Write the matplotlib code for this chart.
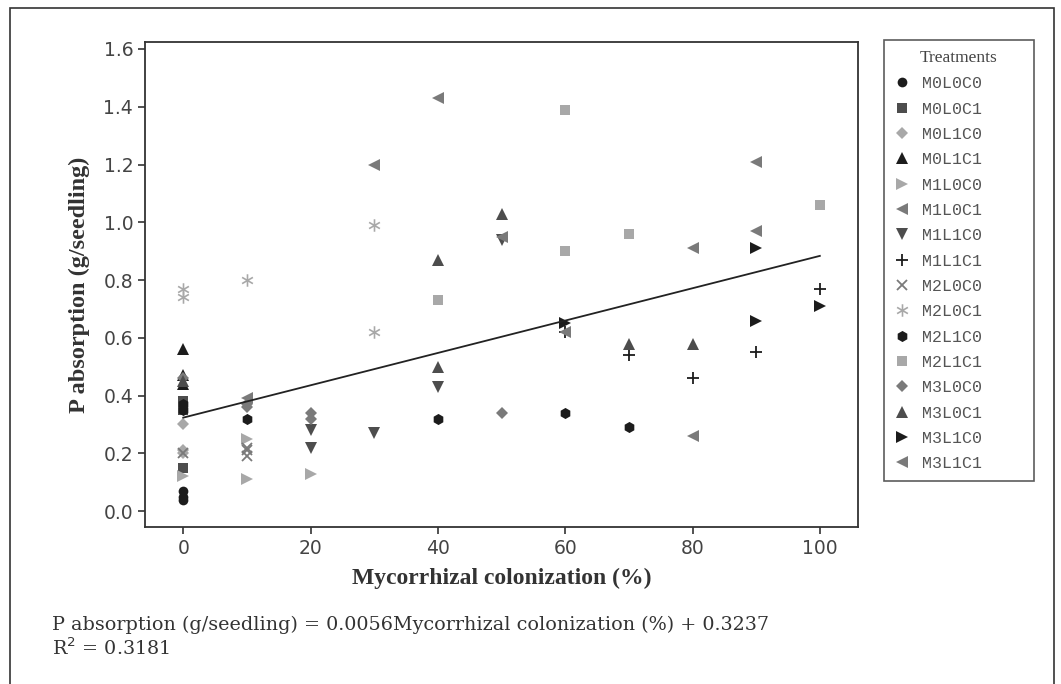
import matplotlib
matplotlib.use("Agg")
from matplotlib import pyplot as plt
from matplotlib.patches import Rectangle
import numpy as np

# colonization (%) and P absorption (g/seedling) for each treatment
names = ["M0L0C0", "M0L0C1", "M0L1C0", "M0L1C1", "M1L0C0", "M1L0C1", "M1L1C0", "M1L1C1",
         "M2L0C0", "M2L0C1", "M2L1C0", "M2L1C1", "M3L0C0", "M3L0C1", "M3L1C0", "M3L1C1"]

x_m0l0c0 = [0, 0, 0]
y_m0l0c0 = [0.05, 0.04, 0.07]
x_m0l0c1 = [0, 0, 0]
y_m0l0c1 = [0.15, 0.38, 0.35]
x_m0l1c0 = [0, 0, 0]
y_m0l1c0 = [0.30, 0.21, 0.20]
x_m0l1c1 = [0, 0, 0]
y_m0l1c1 = [0.56, 0.47, 0.44]
x_m1l0c0 = [0, 10, 10, 20]
y_m1l0c0 = [0.12, 0.25, 0.11, 0.13]
x_m1l0c1 = [10, 30, 40]
y_m1l0c1 = [0.39, 1.20, 1.43]
x_m1l1c0 = [20, 20, 30, 40, 50]
y_m1l1c0 = [0.28, 0.22, 0.27, 0.43, 0.94]
x_m1l1c1 = [60, 70, 80, 90, 100]
y_m1l1c1 = [0.62, 0.54, 0.46, 0.55, 0.77]
x_m2l0c0 = [0, 10, 10, 10]
y_m2l0c0 = [0.20, 0.21, 0.19, 0.22]
x_m2l0c1 = [0, 0, 10, 30, 30]
y_m2l0c1 = [0.77, 0.74, 0.80, 0.99, 0.62]
x_m2l1c0 = [0, 0, 10, 40, 60, 70]
y_m2l1c0 = [0.37, 0.35, 0.32, 0.32, 0.34, 0.29]
x_m2l1c1 = [40, 60, 60, 70, 100]
y_m2l1c1 = [0.73, 1.39, 0.90, 0.96, 1.06]
x_m3l0c0 = [0, 10, 10, 20, 20, 50]
y_m3l0c0 = [0.46, 0.37, 0.36, 0.34, 0.32, 0.34]
x_m3l0c1 = [0, 40, 40, 50, 70, 80]
y_m3l0c1 = [0.45, 0.87, 0.50, 1.03, 0.58, 0.58]
x_m3l1c0 = [60, 90, 90, 100]
y_m3l1c0 = [0.65, 0.91, 0.66, 0.71]
x_m3l1c1 = [50, 60, 80, 80, 90, 90]
y_m3l1c1 = [0.95, 0.62, 0.91, 0.26, 1.21, 0.97]

slope = 0.0056
intercept = 0.3237

xs = [x_m0l0c0, x_m0l0c1, x_m0l1c0, x_m0l1c1, x_m1l0c0, x_m1l0c1, x_m1l1c0, x_m1l1c1,
      x_m2l0c0, x_m2l0c1, x_m2l1c0, x_m2l1c1, x_m3l0c0, x_m3l0c1, x_m3l1c0, x_m3l1c1]
ys = [y_m0l0c0, y_m0l0c1, y_m0l1c0, y_m0l1c1, y_m1l0c0, y_m1l0c1, y_m1l1c0, y_m1l1c1,
      y_m2l0c0, y_m2l0c1, y_m2l1c0, y_m2l1c1, y_m3l0c0, y_m3l0c1, y_m3l1c0, y_m3l1c1]

black = "#1c1c1c"
dark = "#4d4d4d"
mid = "#7a7a7a"
light = "#a8a8a8"
styles = [
    ("o", black, 7), ("s", dark, 7), ("D", light, 6), ("^", black, 8),
    (">", light, 8), ("<", mid, 8), ("v", dark, 8), ("+", black, 8),
    ("x", mid, 7), ("$\\ast$", light, 9), ("h", black, 8), ("s", light, 7),
    ("D", mid, 6), ("^", dark, 8), (">", black, 8), ("<", mid, 8),
]

fig = plt.figure(figsize=(10.61, 6.84), dpi=100)
ax = fig.add_axes([0.1367, 0.2295, 0.672, 0.709])

for name, x, y, (m, c, s) in zip(names, xs, ys, styles):
    lw = 1.3 if m in ("+", "x") else 0
    ax.plot(x, y, linestyle="none", marker=m, color=c, markersize=s,
            markeredgewidth=lw, label=name)

fit_x = np.array([0, 100])
ax.plot(fit_x, slope * fit_x + intercept, color="#222222", linewidth=1.3)

ax.set_xlim(-6, 106)
ax.set_ylim(-0.055, 1.624)
ax.set_xticks([0, 20, 40, 60, 80, 100])
ax.set_yticks(np.arange(0, 1.61, 0.2))
ax.set_yticklabels([f"{v:.1f}" for v in np.arange(0, 1.61, 0.2)])
ax.tick_params(direction="out", length=5, width=1.2, labelsize=13.5, colors="#333333", labelcolor="#444444")
for sp in ax.spines.values():
    sp.set_linewidth(1.3)
    sp.set_color("#333333")

ax.set_xlabel("Mycorrhizal colonization (%)", family="Liberation Serif", fontweight="bold",
              fontsize=17, color="#333333", labelpad=7)
ax.set_ylabel("P absorption (g/seedling)", family="Liberation Serif", fontweight="bold",
              fontsize=17.5, color="#333333", labelpad=10)

leg = fig.legend(loc="upper left",
                 bbox_to_anchor=(884 / 1061, 1 - 472 / 684, 150 / 1061, 432 / 684),
                 mode="expand", title="Treatments",
                 prop={"family": "Liberation Mono", "size": 12},
                 frameon=True, fancybox=False, edgecolor="#333333",
                 labelspacing=0.62, handletextpad=0.7, borderpad=0.6,
                 handlelength=1.0, borderaxespad=0)
leg.get_frame().set_linewidth(1.2)
leg.get_title().set_family("Liberation Serif")
leg.get_title().set_fontsize(12.5)
leg.get_title().set_color("#444444")
for t in leg.get_texts():
    t.set_color("#555555")

fig.text(52 / 1061, 1 - 625 / 684, "P absorption (g/seedling) = 0.0056Mycorrhizal colonization (%) + 0.3237",
         family="DejaVu Serif", fontsize=13.8, color="#333333", va="center")
fig.text(52 / 1061, 1 - 648 / 684, "R$^2$ = 0.3181",
         family="DejaVu Serif", fontsize=13.8, color="#333333", va="center")

fig.patches.append(Rectangle((10 / 1061, -0.05), 1044 / 1061, 1.05 - 8 / 684,
                             transform=fig.transFigure, fill=False,
                             edgecolor="#333333", linewidth=1.2))

fig.savefig("out.png", dpi=100)
